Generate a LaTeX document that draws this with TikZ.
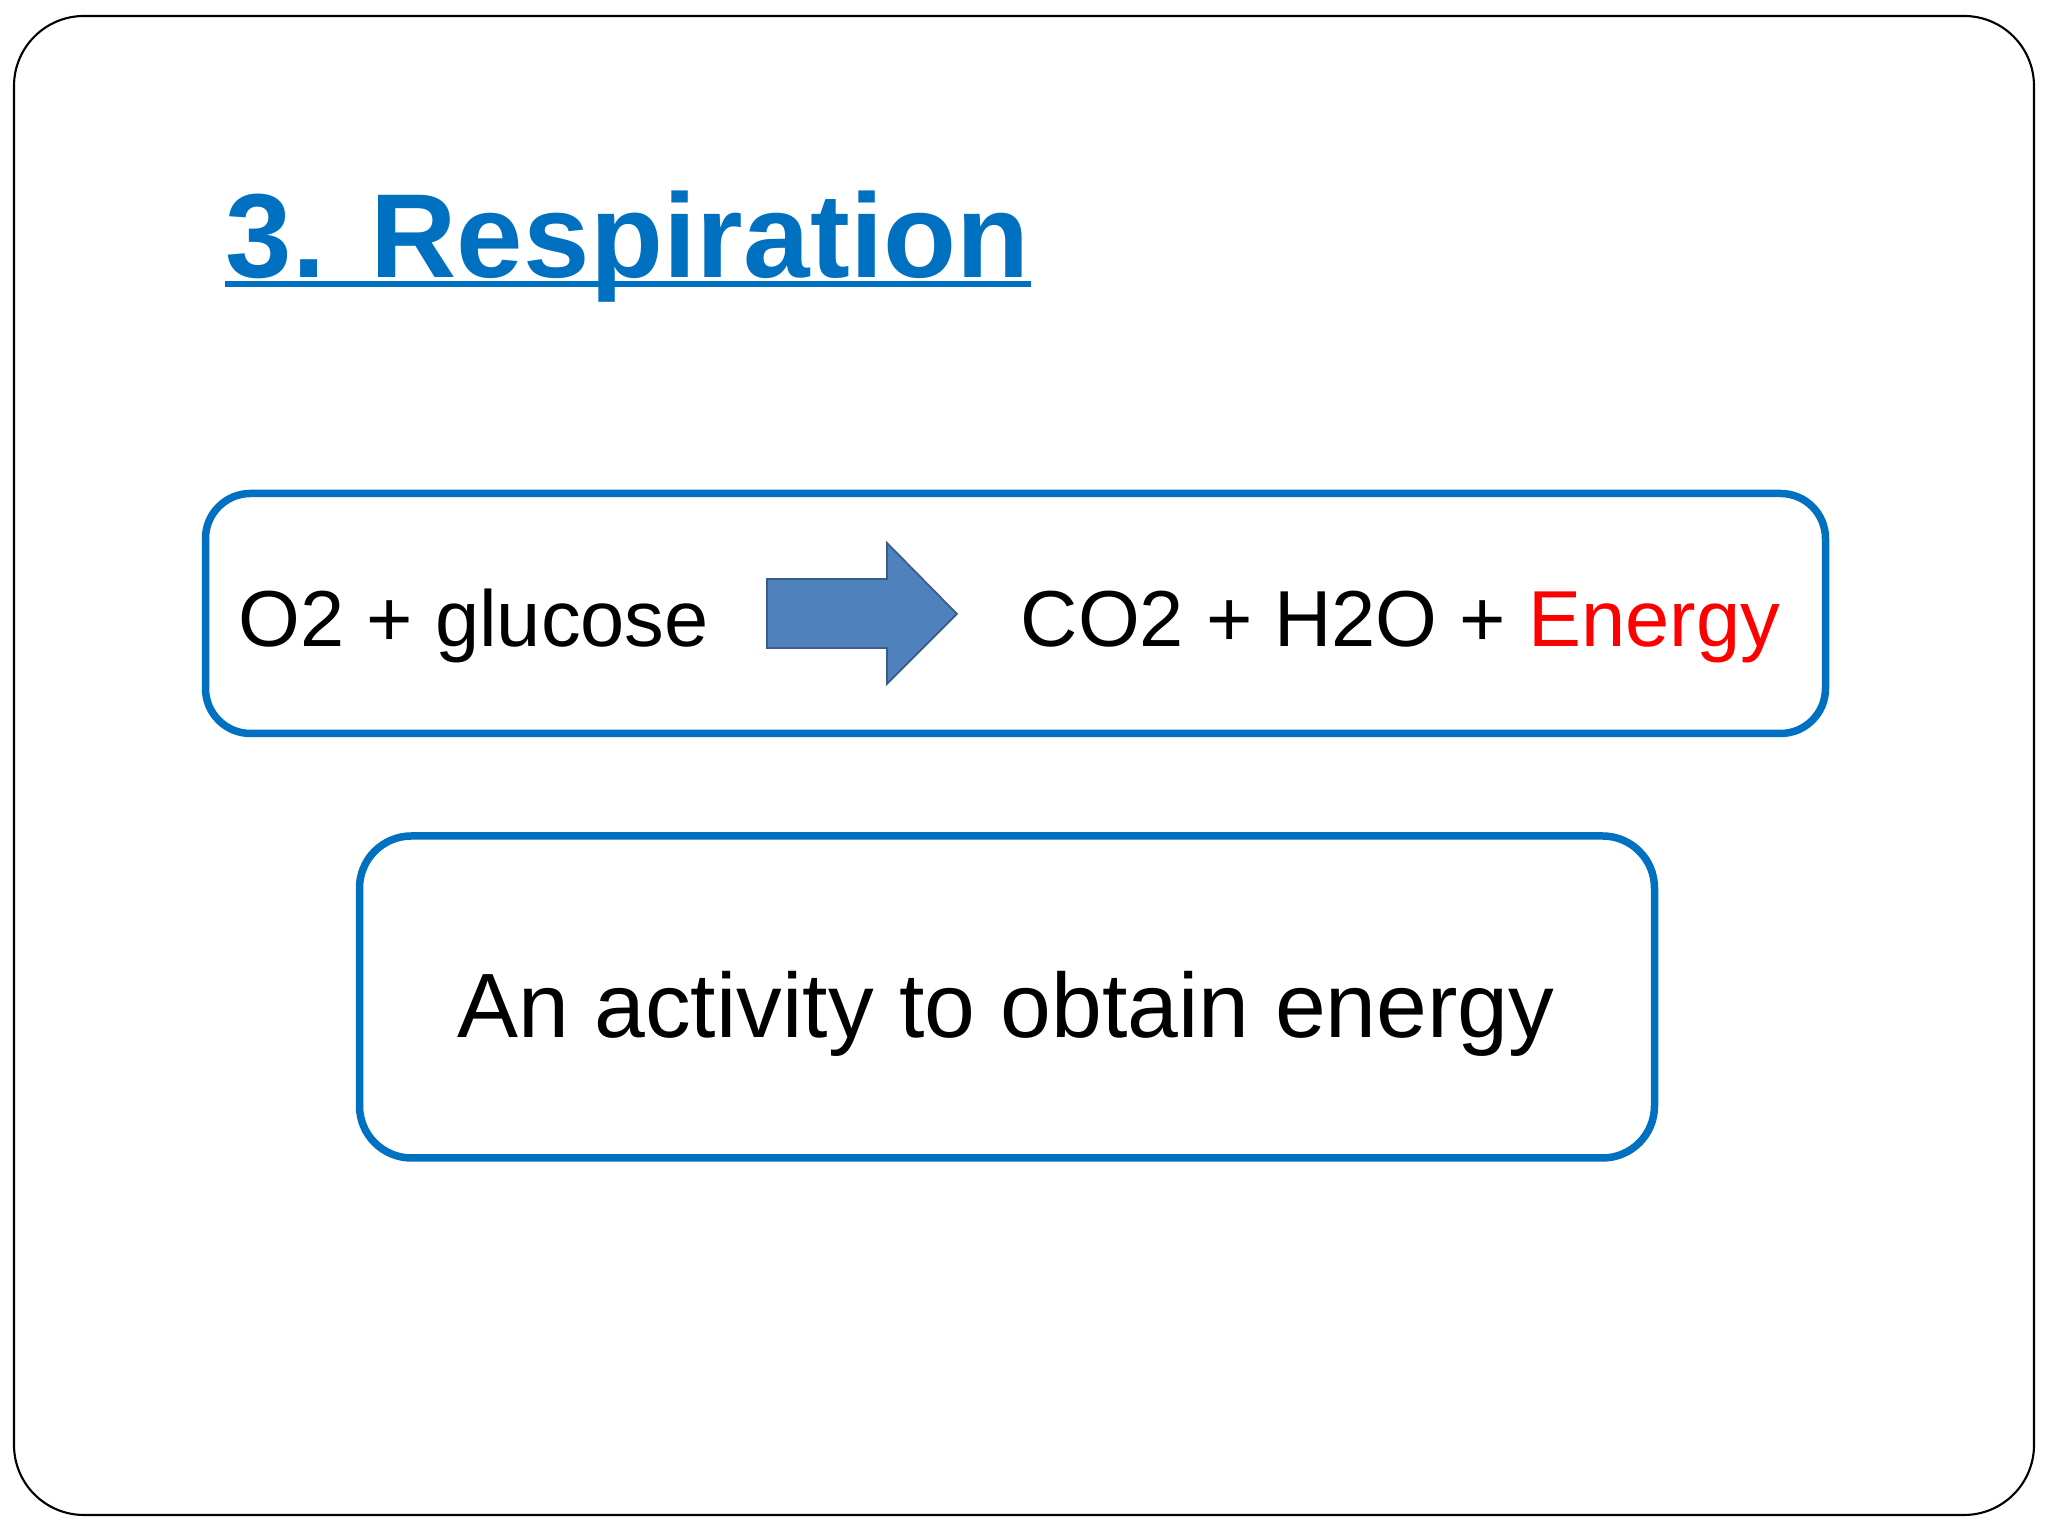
\documentclass[tikz,border=0pt]{standalone}
\usepackage{fontspec}
\setmainfont{Liberation Sans}
\newfontfamily\titlefont[LetterSpace=0.2]{Liberation Sans}
\definecolor{slideblue}{RGB}{0,112,192}
\definecolor{arrowfill}{RGB}{79,129,189}
\definecolor{arrowline}{RGB}{56,93,138}
\definecolor{energyred}{RGB}{255,0,0}
\begin{document}
\begin{tikzpicture}[every node/.style={inner sep=0pt},
  textbox/.style={draw=slideblue,line width=0.075cm,rounded corners=0.45cm},
  eqtext/.style={anchor=base west,font=\fontsize{22.6}{27}\selectfont}]
  \useasboundingbox (0,0) rectangle (20.48,15.36);
  \draw [line width=0.6pt,rounded corners=0.7cm] (0.14,0.21) rectangle (20.34,15.20);
  \node [anchor=base west,text=slideblue,font=\titlefont\bfseries\fontsize{34}{40}\selectfont] (title) at (2.25,12.58) {3. Respiration};
  \draw [slideblue,line width=0.06cm] ([yshift=-0.06cm]title.base west) -- ([yshift=-0.06cm]title.base east);
  % reaction
  \node [textbox,minimum width=16.2cm,minimum height=2.4cm] (eq) at (10.155,9.225) {};
  \node [eqtext] (input) at (2.38,8.89) {O2 + glucose};
  \node [eqtext] (output) at (10.20,8.89) {CO2 + H2O + \textcolor{energyred}{Energy}};
  \filldraw [fill=arrowfill,draw=arrowline,line width=0.5pt] (7.67,9.57) -- (8.87,9.57) -- (8.87,9.93) -- (9.57,9.22) -- (8.87,8.52) -- (8.87,8.88) -- (7.67,8.88) -- cycle;
  % meaning
  \node [textbox,rounded corners=0.52cm,minimum width=12.95cm,minimum height=3.22cm] (act) at (10.07,5.39) {};
  \node [anchor=base,font=\fontsize{26}{31}\selectfont] (actlabel) at (10.06,4.98) {An activity to obtain energy};
\end{tikzpicture}
\end{document}
